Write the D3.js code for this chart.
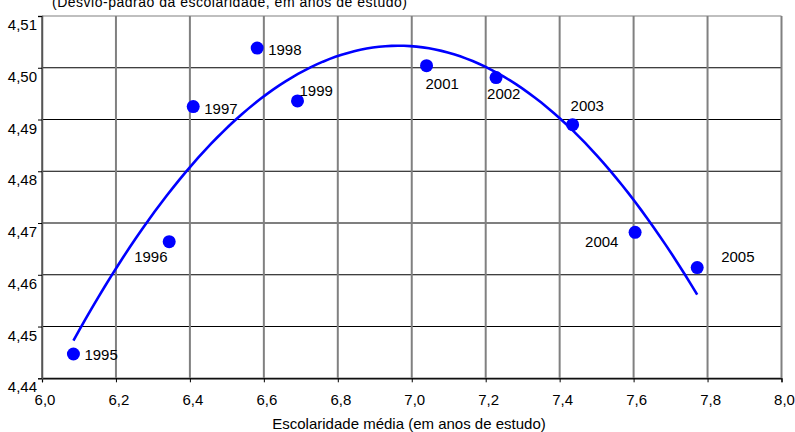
<!DOCTYPE html>
<html>
<head>
<meta charset="utf-8">
<script src="https://cdn.jsdelivr.net/npm/d3@7"></script>
<style>
  body { margin: 0; background: #fff; }
  text { font-family: "Liberation Sans", Arial, sans-serif; }
</style>
</head>
<body>
<div id="chart"></div>
<script>
const years = ["1995", "1996", "1997", "1998", "1999", "2001", "2002", "2003", "2004", "2005"];
const escolaridade = [6.085, 6.344, 6.409, 6.582, 6.691, 7.040, 7.228, 7.435, 7.604, 7.772];
const desvio = [4.4447, 4.4664, 4.4925, 4.5038, 4.4936, 4.5004, 4.4981, 4.4890, 4.4682, 4.4614];
const xTicks = [6.0, 6.2, 6.4, 6.6, 6.8, 7.0, 7.2, 7.4, 7.6, 7.8, 8.0];
const yTicks = [4.44, 4.45, 4.46, 4.47, 4.48, 4.49, 4.50, 4.51];
// label offsets (dx, dy) relative to each point
const labelPos = [[11, 6], [-35, 20], [11, 7], [11, 7], [2, -5], [-1, 23], [-9, 21], [-2, -14], [-50, 15], [24, -6]];

const width = 795, height = 432;
const margin = { top: 16, right: 13.5, bottom: 53.7, left: 42 };
const fs = 15;

const svg = d3.select("#chart").append("svg")
  .attr("width", width).attr("height", height);

const x = d3.scaleLinear().domain([6.0, 8.0]).range([margin.left, width - margin.right]);
const y = d3.scaleLinear().domain([4.44, 4.51]).range([height - margin.bottom, margin.top]);

const fmt = d => d3.format(".2f")(d).replace(".", ",");
const fmtX = d => d3.format(".1f")(d).replace(".", ",");

// horizontal grid (black)
svg.append("g").selectAll("line").data(yTicks).join("line")
  .attr("x1", margin.left).attr("x2", width - margin.right)
  .attr("y1", d => y(d)).attr("y2", d => y(d))
  .attr("stroke", d => d === 4.51 ? "#808080" : "#000").attr("stroke-width", 1.1);

// vertical grid (grey)
svg.append("g").selectAll("line").data(xTicks).join("line")
  .attr("x1", d => x(d)).attr("x2", d => x(d))
  .attr("y1", y(4.51)).attr("y2", y(4.44))
  .attr("stroke", "#808080").attr("stroke-width", 2);

// bottom axis
svg.append("g")
  .attr("transform", `translate(0,${y(4.44)})`)
  .call(d3.axisBottom(x).tickValues(xTicks).tickFormat(fmtX).tickSize(4).tickPadding(12))
  .call(g => g.select(".domain").attr("stroke", "#000").attr("stroke-width", 1.2))
  .call(g => g.selectAll(".tick line").attr("stroke", "#000"))
  .call(g => g.selectAll("text").attr("font-size", fs).attr("fill", "#000")
    .attr("font-family", "Liberation Sans, Arial, sans-serif").attr("dx", 2.5));

// left axis
svg.append("g")
  .attr("transform", `translate(${margin.left},0)`)
  .call(d3.axisLeft(y).tickValues(yTicks).tickFormat(fmt).tickSize(4).tickPadding(1))
  .call(g => g.select(".domain").attr("stroke", "#555").attr("stroke-width", 1.5))
  .call(g => g.selectAll(".tick line").attr("stroke", "#000"))
  .call(g => g.selectAll("text").attr("font-size", fs).attr("fill", "#000")
    .attr("font-family", "Liberation Sans, Arial, sans-serif").attr("dy", "0.9em"));

// quadratic least-squares trend
function polyfit2(xs, ys) {
  let S = [0, 0, 0, 0, 0], T = [0, 0, 0];
  xs.forEach((xv, i) => {
    for (let k = 0; k < 5; k++) S[k] += Math.pow(xv, k);
    for (let k = 0; k < 3; k++) T[k] += ys[i] * Math.pow(xv, k);
  });
  const A = [[S[0], S[1], S[2], T[0]], [S[1], S[2], S[3], T[1]], [S[2], S[3], S[4], T[2]]];
  for (let i = 0; i < 3; i++) {
    for (let j = i + 1; j < 3; j++) {
      const f = A[j][i] / A[i][i];
      for (let k = i; k < 4; k++) A[j][k] -= f * A[i][k];
    }
  }
  const c = [0, 0, 0];
  for (let i = 2; i >= 0; i--) {
    let s = A[i][3];
    for (let k = i + 1; k < 3; k++) s -= A[i][k] * c[k];
    c[i] = s / A[i][i];
  }
  return c;
}
const coef = polyfit2(escolaridade, desvio);
const x0 = d3.min(escolaridade), x1 = d3.max(escolaridade);
const trend = d3.range(0, 101).map(i => {
  const xv = x0 + (x1 - x0) * i / 100;
  return [xv, coef[0] + coef[1] * xv + coef[2] * xv * xv];
});
svg.append("path").datum(trend)
  .attr("fill", "none").attr("stroke", "#0000ff").attr("stroke-width", 2.6)
  .attr("d", d3.line().x(d => x(d[0])).y(d => y(d[1])));

// points
svg.append("g").selectAll("circle").data(years).join("circle")
  .attr("cx", (d, i) => x(escolaridade[i]))
  .attr("cy", (d, i) => y(desvio[i]))
  .attr("r", 6.5).attr("fill", "#0000ff");

svg.append("g").selectAll("text").data(years).join("text")
  .attr("x", (d, i) => x(escolaridade[i]) + labelPos[i][0])
  .attr("y", (d, i) => y(desvio[i]) + labelPos[i][1])
  .attr("font-size", fs).attr("fill", "#000")
  .text(d => d);

// titles
svg.append("text")
  .attr("x", 52).attr("y", 7)
  .attr("font-size", 14).attr("fill", "#000")
  .attr("font-family", "Open Sans, sans-serif")
  .attr("textLength", 355)
  .text("(Desvio-padrão da escolaridade, em anos de estudo)");

svg.append("text")
  .attr("x", 409).attr("y", 429)
  .attr("text-anchor", "middle")
  .attr("font-size", fs).attr("fill", "#000")
  .text("Escolaridade média (em anos de estudo)");
</script>
</body>
</html>
